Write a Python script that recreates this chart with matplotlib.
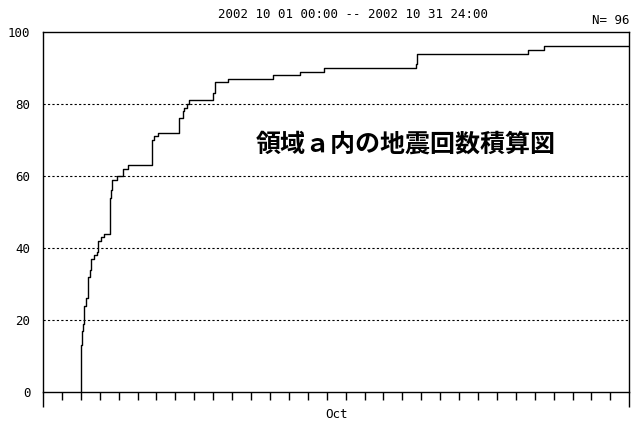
import numpy as np
import matplotlib
matplotlib.use("Agg")
import matplotlib.pyplot as plt

# cumulative count steps: days since 2002-10-01 00:00 and count after each step
step_day = [1.99, 2.05, 2.10, 2.15, 2.25, 2.40, 2.46, 2.52, 2.70, 2.84,
            2.92, 3.05, 3.23, 3.54, 3.58, 3.65, 3.90, 4.21, 4.48, 5.75,
            5.87, 6.10, 7.21, 7.39, 7.46, 7.60, 7.74, 8.97, 9.10, 9.80,
            12.18, 13.59, 14.86, 19.72, 19.79, 25.63, 26.51]
step_count = [13, 17, 19, 24, 26, 32, 34, 37, 38, 39,
              42, 43, 44, 54, 56, 59, 60, 62, 63, 70,
              71, 72, 76, 78, 79, 80, 81, 83, 86, 87,
              88, 89, 90, 91, 94, 95, 96]
n_days = 31
y_ticks = [0, 20, 40, 60, 80, 100]
period = "2002 10 01 00:00 -- 2002 10 31 24:00"
n_label = "N= 96"
month_label = "Oct"
title_jp = "領域ａ内の地震回数積算図"

mono = "DejaVu Sans Mono"

fig = plt.figure(figsize=(6.42, 4.21), dpi=100)
ax = fig.add_axes([43 / 642, 29 / 421, 586.3 / 642, 360 / 421])

# step line: starts at zero, ends at the end of the month
xs = [step_day[0]] + step_day + [n_days]
ys = [0] + step_count + [step_count[-1]]
ax.plot(xs, ys, drawstyle="steps-post", color="black", lw=1.0)

for yv in y_ticks[1:-1]:
    ax.axhline(yv, color="black", lw=0.8, ls=(0, (2, 2)))

ax.set_xlim(0, n_days)
ax.set_ylim(0, 100)

ax.set_yticks(y_ticks)
ax.set_yticklabels([str(v) for v in y_ticks], fontfamily=mono, fontsize=9)
ax.tick_params(axis="y", length=0, pad=9)

ax.set_xticks([0, n_days])
ax.set_xticklabels([])
ax.set_xticks(np.arange(1, n_days), minor=True)
ax.tick_params(axis="x", which="major", length=11, width=1, direction="out")
ax.tick_params(axis="x", which="minor", length=6, width=1, direction="out")

for s in ax.spines.values():
    s.set_linewidth(1)
    s.set_color("black")

ax.text(15.5, -0.045, month_label, transform=ax.get_xaxis_transform(),
        ha="center", va="top", fontfamily=mono, fontsize=9)

fig.text(353 / 642, 1 - 15 / 421, period, ha="center", va="center",
         fontfamily=mono, fontsize=9)
fig.text(629 / 642, 1 - 20 / 421, n_label, ha="right", va="center",
         fontfamily=mono, fontsize=9)

fig.text(406 / 642, 1 - 145 / 421, title_jp, ha="center", va="center",
         fontfamily=["Noto Sans CJK JP", "DejaVu Sans"], fontweight="bold",
         fontsize=18)

fig.savefig("out.png", dpi=100)
